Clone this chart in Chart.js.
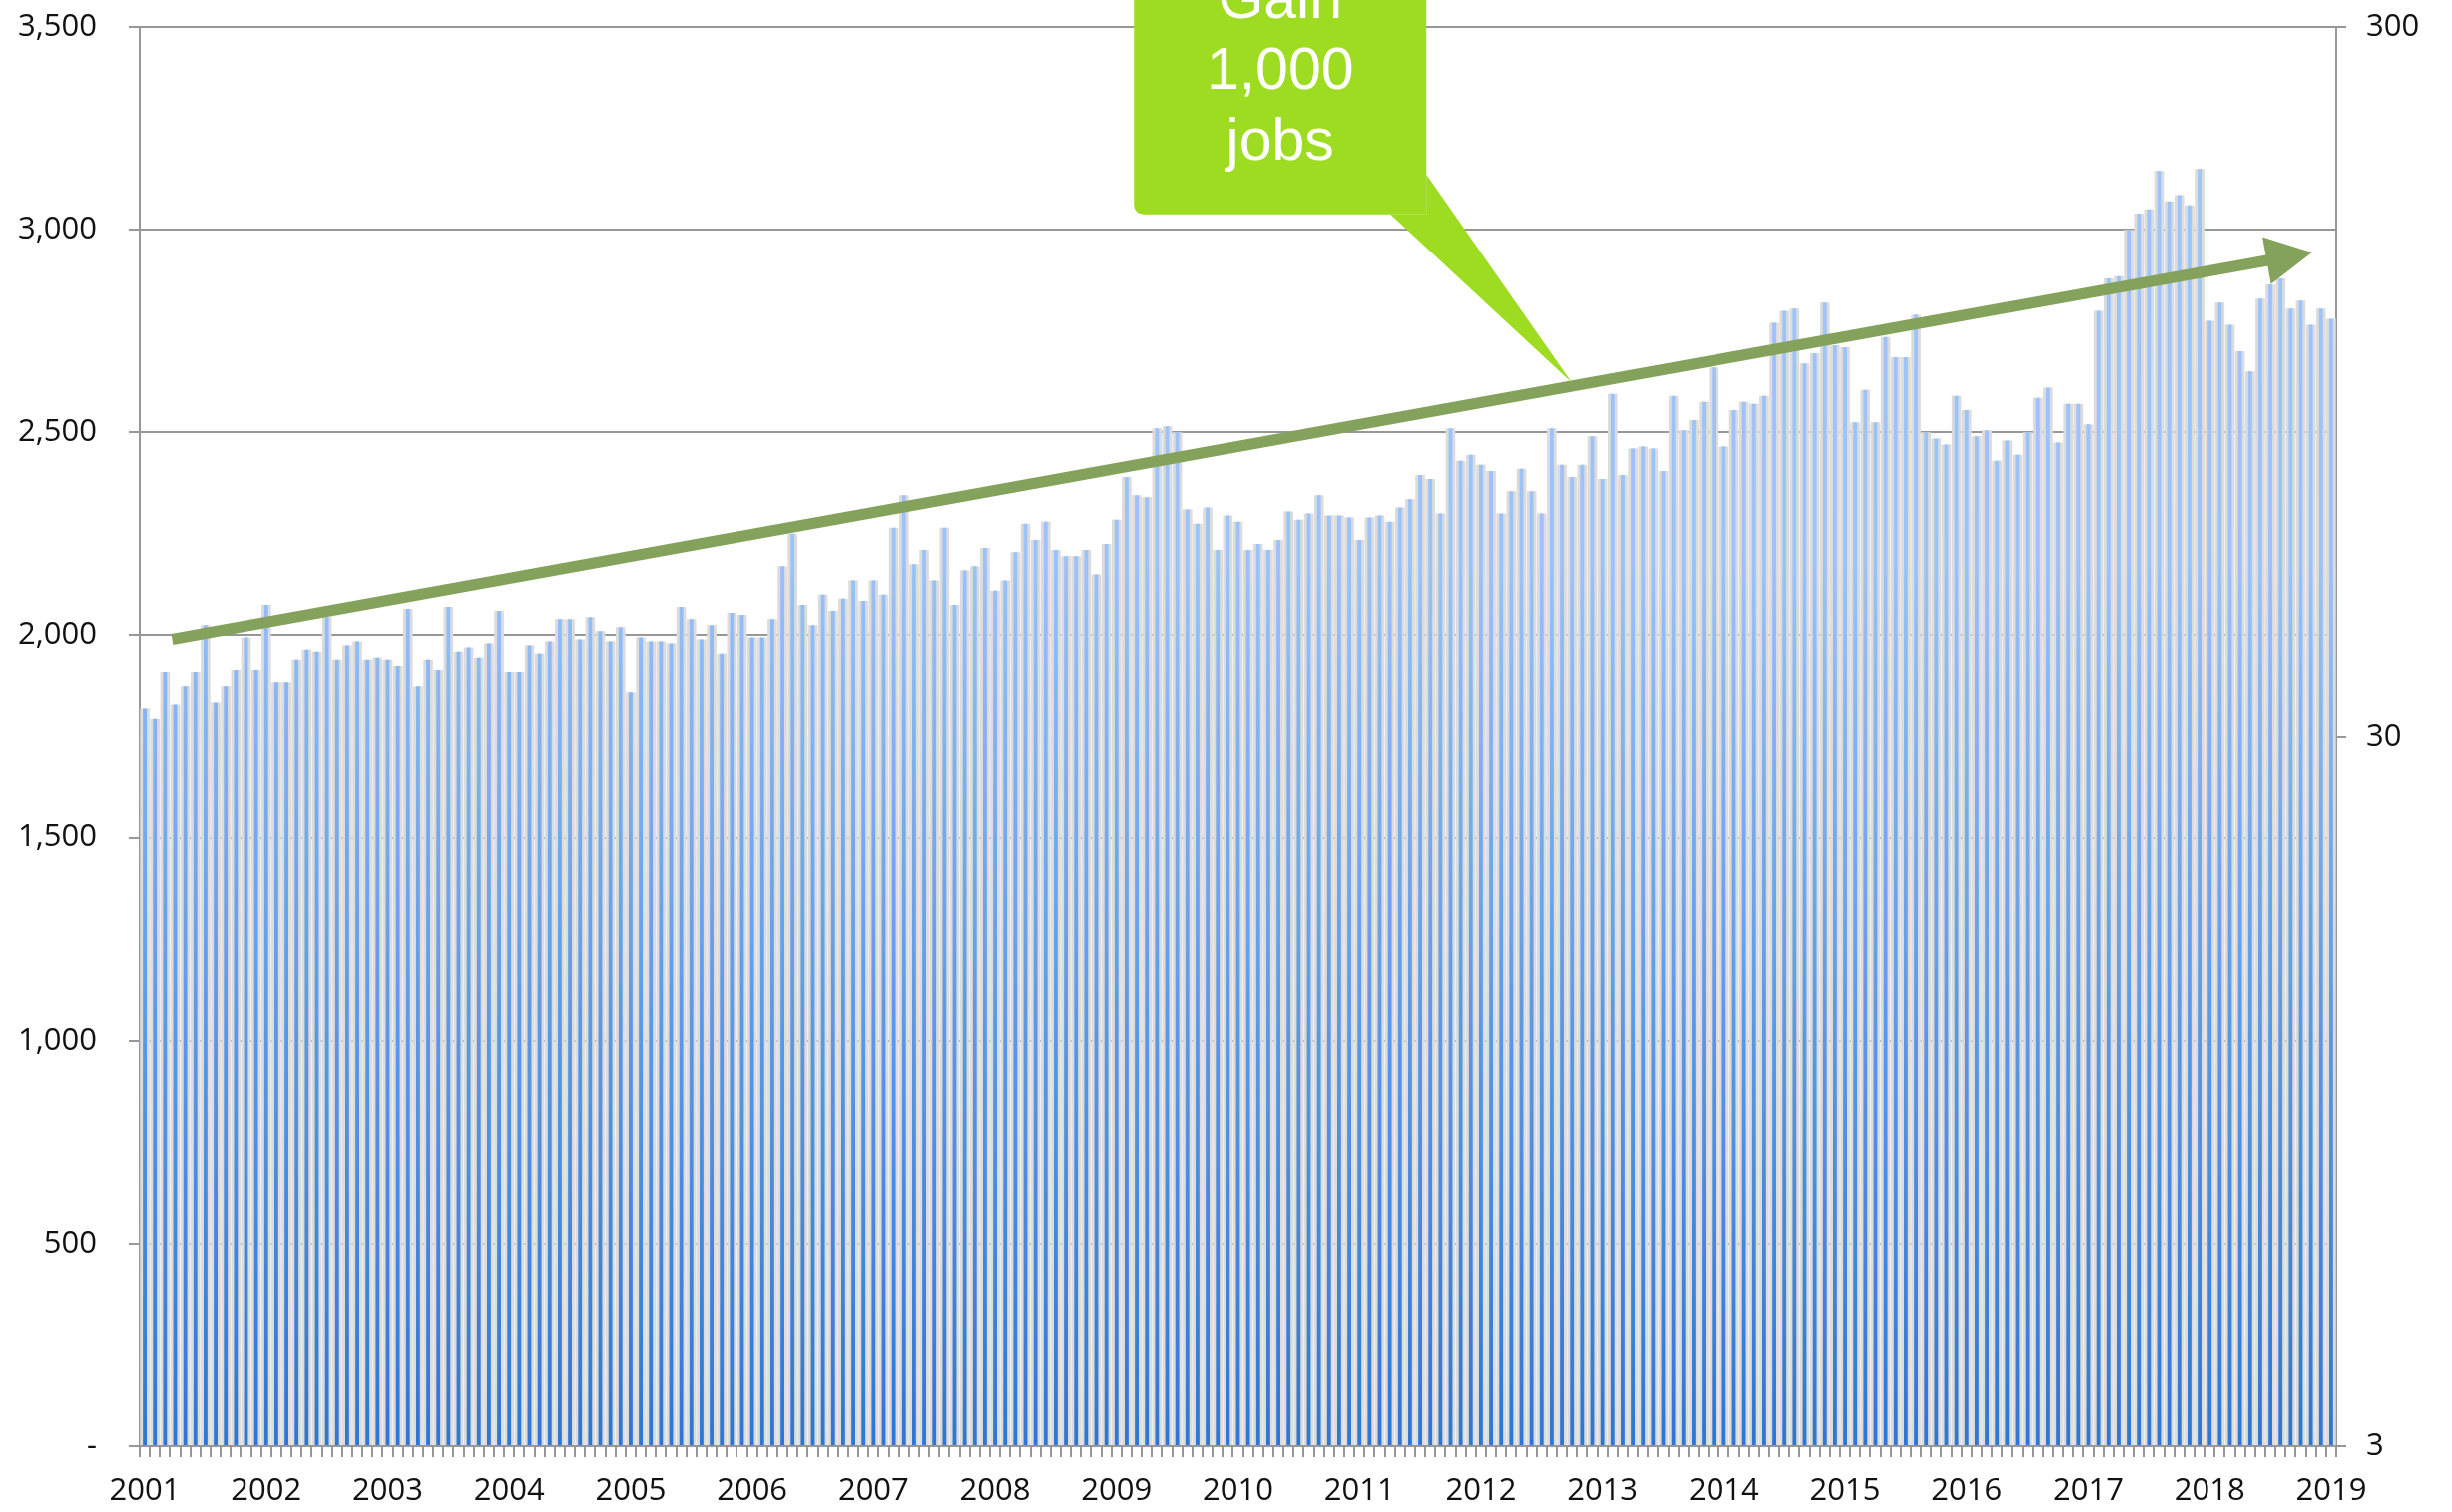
<!DOCTYPE html>
<html>
<head>
<meta charset="utf-8">
<title>Jobs 2001-2019</title>
<script src="https://cdn.jsdelivr.net/npm/chart.js@4.4.1/dist/chart.umd.min.js"></script>
<style>
  html, body { margin: 0; padding: 0; background: #fff; }
  #wrap { width: 2457px; height: 1515px; }
</style>
</head>
<body>
<div id="wrap"><canvas id="jobsChart" width="2457" height="1515"></canvas></div>
<script>
// year tick labels (one per January)
const yearTicks = ['2001','2002','2003','2004','2005','2006','2007','2008','2009','2010',
                   '2011','2012','2013','2014','2015','2016','2017','2018','2019'];

// monthly values
const y2001 = [1820,1795,1910,1830,1875,1910,2025,1835,1875,1915,1995,1915];
const y2002 = [2075,1885,1885,1940,1965,1960,2045,1940,1975,1985,1940,1945];
const y2003 = [1940,1925,2065,1875,1940,1915,2070,1960,1970,1945,1980,2060];
const y2004 = [1910,1910,1975,1955,1985,2040,2040,1990,2045,2010,1985,2020];
const y2005 = [1860,1995,1985,1985,1980,2070,2040,1990,2025,1955,2055,2050];
const y2006 = [1995,1995,2040,2170,2250,2075,2025,2100,2060,2090,2135,2085];
const y2007 = [2135,2100,2265,2345,2175,2210,2135,2265,2075,2160,2170,2215];
const y2008 = [2110,2135,2205,2275,2235,2280,2210,2195,2195,2210,2150,2225];
const y2009 = [2285,2390,2345,2340,2510,2515,2500,2310,2275,2315,2210,2295];
const y2010 = [2280,2210,2225,2210,2235,2305,2285,2300,2345,2295,2295,2290];
const y2011 = [2235,2290,2295,2280,2315,2335,2395,2385,2300,2510,2430,2445];
const y2012 = [2420,2405,2300,2355,2410,2355,2300,2510,2420,2390,2420,2490];
const y2013 = [2385,2595,2395,2460,2465,2460,2405,2590,2505,2530,2575,2660];
const y2014 = [2465,2555,2575,2570,2590,2770,2800,2805,2670,2695,2820,2715];
const y2015 = [2710,2525,2605,2525,2735,2685,2685,2790,2500,2485,2470,2590];
const y2016 = [2555,2490,2505,2430,2480,2445,2500,2585,2610,2475,2570,2570];
const y2017 = [2520,2800,2880,2885,3000,3040,3050,3145,3070,3085,3060,3150];
const y2018 = [2775,2820,2765,2700,2650,2830,2865,2880,2805,2825,2765,2805];
const y2019 = [2780];

const jobs = [].concat(y2001, y2002, y2003, y2004, y2005, y2006, y2007, y2008, y2009,
  y2010, y2011, y2012, y2013, y2014, y2015, y2016, y2017, y2018, y2019);
const months = jobs.map((v, i) => yearTicks[Math.floor(i / 12)] + '-' + String(i % 12 + 1).padStart(2, '0'));

const leftMax = 3500;
const leftStep = 500;
const rightTicks = [3, 30, 300];

// callout and trend arrow (month index, value)
const calloutLines = ['Gain', '1,000', 'jobs'];
const calloutTip = [141, 2622];
const trendStart = [2.7, 1990];
const trendEnd = [214.1, 2944];

const axisGray = '#979797';
const labelFont = { family: '"Open Sans", "Liberation Sans", sans-serif', size: 31 };

let gradCache = null;
function barGradient(context) {
  const chart = context.chart;
  const area = chart.chartArea;
  if (!area) return '#8ab8f0';
  if (gradCache && gradCache.h === area.bottom) return gradCache.g;
  const g = chart.ctx.createLinearGradient(0, area.bottom, 0, area.top);
  g.addColorStop(0, '#2f76d2');
  g.addColorStop(0.28, '#5a96e5');
  g.addColorStop(0.5, '#82b2f1');
  g.addColorStop(0.62, '#9bc2f9');
  g.addColorStop(1, '#a0c5fb');
  gradCache = { h: area.bottom, g: g };
  return g;
}

function noOverhang(s) {
  s.paddingTop = 0;
  s.paddingBottom = 0;
  s.paddingLeft = 0;
  s.paddingRight = 0;
}

const annotations = {
  id: 'annotations',
  afterDraw(chart) {
    const ctx = chart.ctx;
    const xs = chart.scales.x, ys = chart.scales.y;

    // trend arrow
    const x0 = xs.getPixelForValue(trendStart[0]), y0 = ys.getPixelForValue(trendStart[1]);
    const x1 = xs.getPixelForValue(trendEnd[0]), y1 = ys.getPixelForValue(trendEnd[1]);
    const a = Math.atan2(y1 - y0, x1 - x0);
    const headLen = 46, headHalf = 24;
    const bx = x1 - headLen * Math.cos(a), by = y1 - headLen * Math.sin(a);
    ctx.save();
    ctx.strokeStyle = '#84a25c';
    ctx.fillStyle = '#84a25c';
    ctx.lineWidth = 11;
    ctx.beginPath();
    ctx.moveTo(x0, y0);
    ctx.lineTo(bx + 2 * Math.cos(a), by + 2 * Math.sin(a));
    ctx.stroke();
    ctx.beginPath();
    ctx.moveTo(x1, y1);
    ctx.lineTo(bx + headHalf * Math.sin(a), by - headHalf * Math.cos(a));
    ctx.lineTo(bx - headHalf * Math.sin(a), by + headHalf * Math.cos(a));
    ctx.closePath();
    ctx.fill();

    // callout box
    const tx = xs.getPixelForValue(calloutTip[0]), ty = ys.getPixelForValue(calloutTip[1]);
    const left = tx - 439, right = tx - 146, bottom = ty - 169, top = -80;
    const r = 11;
    ctx.fillStyle = '#9edc21';
    ctx.beginPath();
    ctx.moveTo(left + r, top);
    ctx.lineTo(right, top);
    ctx.lineTo(right, bottom);
    ctx.lineTo(left + r, bottom);
    ctx.quadraticCurveTo(left, bottom, left, bottom - r);
    ctx.lineTo(left, top);
    ctx.closePath();
    ctx.fill();
    ctx.beginPath();
    ctx.moveTo(tx - 182, bottom);
    ctx.lineTo(tx, ty);
    ctx.lineTo(right, ty - 209);
    ctx.lineTo(right, bottom);
    ctx.closePath();
    ctx.fill();

    ctx.fillStyle = '#ffffff';
    ctx.font = '59px "Liberation Sans", Arial, sans-serif';
    ctx.textAlign = 'center';
    ctx.textBaseline = 'alphabetic';
    const cx = (left + right) / 2;
    calloutLines.forEach((t, i) => {
      ctx.fillText(t, cx, bottom - 197 + i * 71);
    });
    ctx.restore();
  }
};

const ctx = document.getElementById('jobsChart').getContext('2d');
new Chart(ctx, {
  type: 'bar',
  data: {
    labels: months,
    datasets: [
      {
        label: 'Jobs',
        data: jobs,
        backgroundColor: barGradient,
        barPercentage: 0.38,
        categoryPercentage: 1,
        grouped: false,
        order: 0,
        yAxisID: 'y'
      },
      {
        label: 'shadow',
        data: jobs,
        backgroundColor: '#dcdcdc',
        barPercentage: 0.95,
        categoryPercentage: 1,
        grouped: false,
        order: 1,
        yAxisID: 'y'
      }
    ]
  },
  options: {
    responsive: false,
    animation: false,
    devicePixelRatio: 1,
    layout: { padding: { top: 27, left: 0, right: 0, bottom: 0 } },
    plugins: { legend: { display: false }, tooltip: { enabled: false } },
    scales: {
      x: {
        offset: true,
        grid: { offset: true, drawOnChartArea: false, color: axisGray, lineWidth: 2, tickLength: 11 },
        border: { display: true, color: axisGray, width: 2 },
        ticks: {
          autoSkip: false, maxRotation: 0, minRotation: 0, padding: 16,
          font: labelFont, color: '#111111',
          callback: (v, i) => (i % 12 === 0 ? yearTicks[i / 12] : '')
        },
        afterFit: s => { s.height = 66; noOverhang(s); }
      },
      y: {
        position: 'left',
        min: 0,
        max: leftMax,
        grid: { color: axisGray, lineWidth: 2, tickLength: 11 },
        border: { display: true, color: axisGray, width: 2 },
        ticks: {
          stepSize: leftStep, padding: 32, font: labelFont, color: '#111111',
          callback: v => (v === 0 ? '-' : v.toLocaleString('en-US'))
        },
        afterFit: s => { s.width = 140; noOverhang(s); }
      },
      y2: {
        type: 'logarithmic',
        position: 'right',
        min: 3,
        max: 300,
        afterBuildTicks: s => { s.ticks = rightTicks.map(v => ({ value: v })); },
        grid: { drawOnChartArea: false, color: axisGray, lineWidth: 2, tickLength: 10 },
        border: { display: true, color: axisGray, width: 2 },
        ticks: { padding: 20, font: labelFont, color: '#111111', callback: v => String(v) },
        afterFit: s => { s.width = 116; noOverhang(s); }
      }
    }
  },
  plugins: [annotations]
});
</script>
</body>
</html>
